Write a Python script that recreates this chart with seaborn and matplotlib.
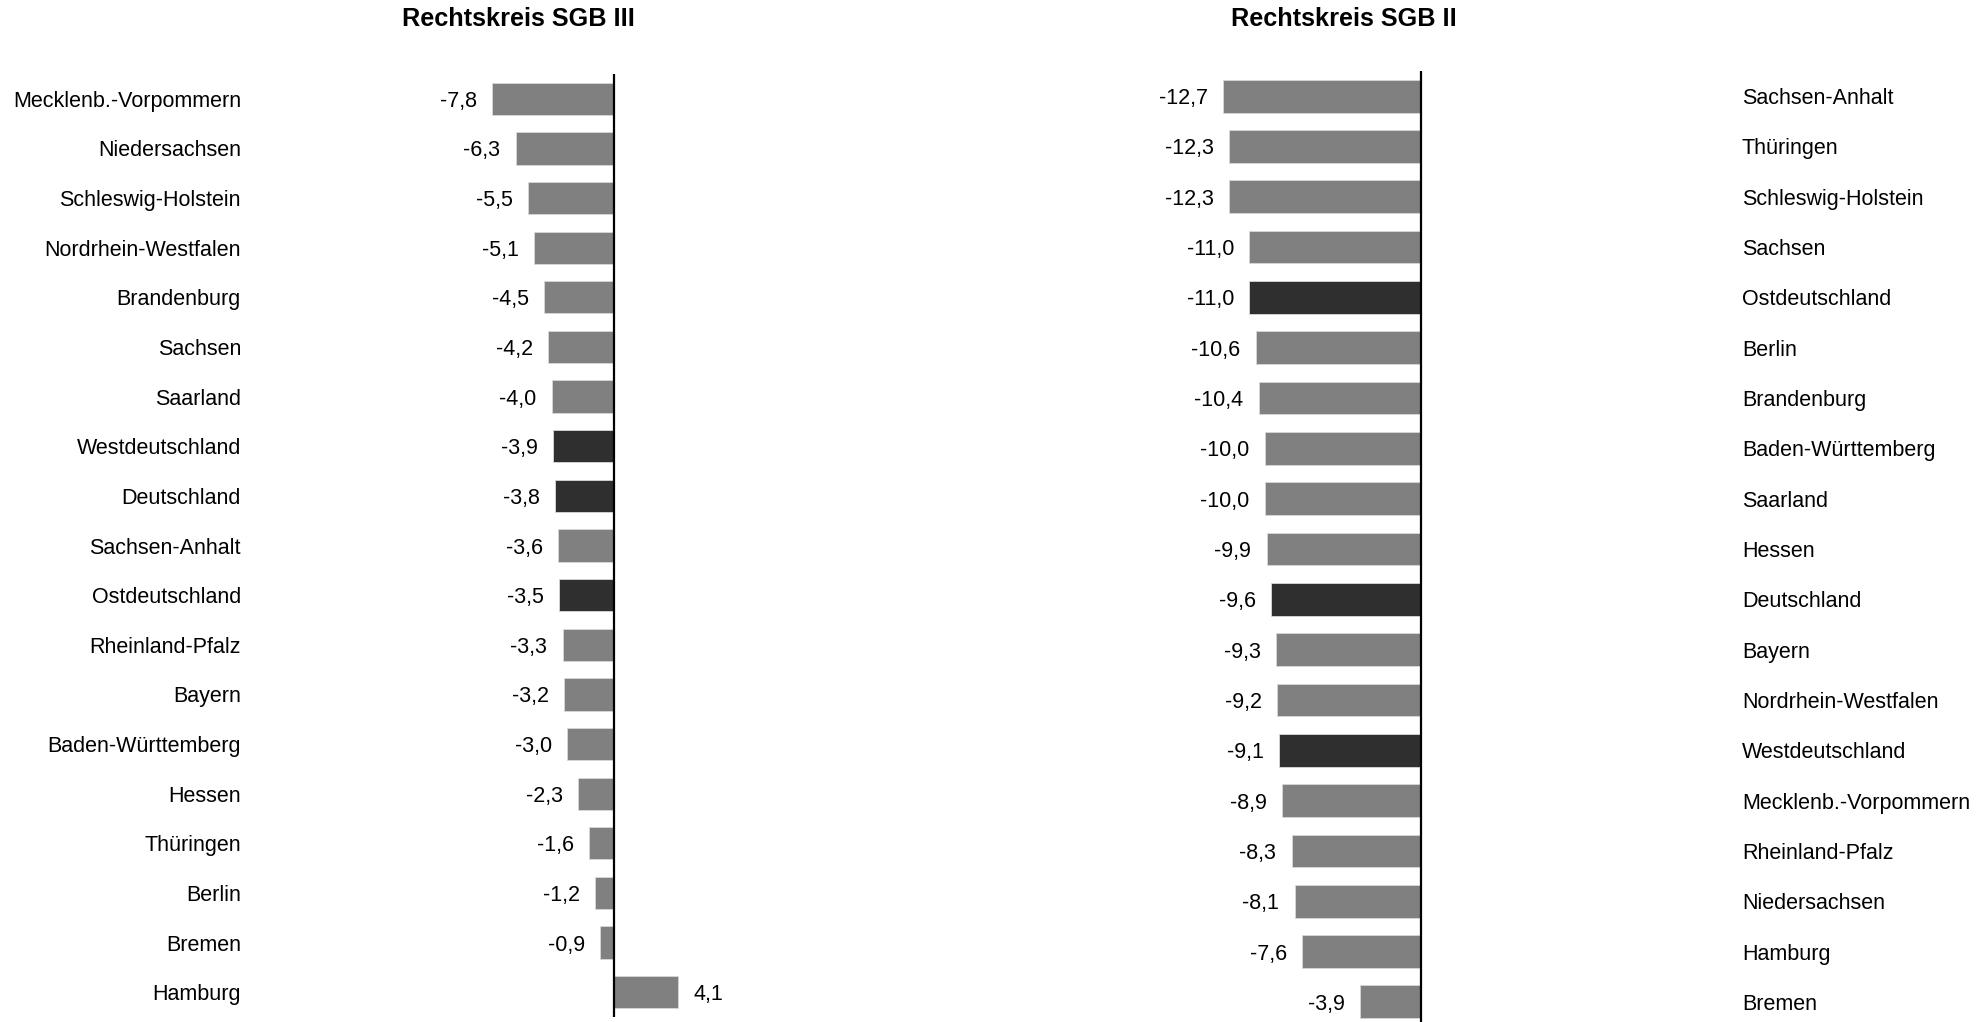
import matplotlib
matplotlib.use("Agg")
import matplotlib.pyplot as plt
import matplotlib.transforms as mtransforms
import seaborn as sns
import pandas as pd

sgb3_labels = ["Mecklenb.-Vorpommern", "Niedersachsen", "Schleswig-Holstein", "Nordrhein-Westfalen",
               "Brandenburg", "Sachsen", "Saarland", "Westdeutschland", "Deutschland",
               "Sachsen-Anhalt", "Ostdeutschland", "Rheinland-Pfalz", "Bayern",
               "Baden-Württemberg", "Hessen", "Thüringen", "Berlin", "Bremen", "Hamburg"]
sgb3_values = [-7.8, -6.3, -5.5, -5.1, -4.5, -4.2, -4.0, -3.9, -3.8, -3.6, -3.5, -3.3, -3.2,
               -3.0, -2.3, -1.6, -1.2, -0.9, 4.1]

sgb2_labels = ["Sachsen-Anhalt", "Thüringen", "Schleswig-Holstein", "Sachsen", "Ostdeutschland",
               "Berlin", "Brandenburg", "Baden-Württemberg", "Saarland", "Hessen", "Deutschland",
               "Bayern", "Nordrhein-Westfalen", "Westdeutschland", "Mecklenb.-Vorpommern",
               "Rheinland-Pfalz", "Niedersachsen", "Hamburg", "Bremen"]
sgb2_values = [-12.7, -12.3, -12.3, -11.0, -11.0, -10.6, -10.4, -10.0, -10.0, -9.9, -9.6,
               -9.3, -9.2, -9.1, -8.9, -8.3, -8.1, -7.6, -3.9]

aggregates = ["Westdeutschland", "Deutschland", "Ostdeutschland"]
titles = ["Rechtskreis SGB III", "Rechtskreis SGB II"]

GRAY = "#808080"
DARK = "#2f2f2f"

sns.set_theme(style="white")
plt.rcParams["font.family"] = ["Liberation Sans", "DejaVu Sans"]

W, H = 1986, 1022
fig = plt.figure(figsize=(W / 100, H / 100), dpi=100)

def fmt(v):
    return f"{v:.1f}".replace(".", ",")

def panel(px_left, px_right, px_zero, px_top, px_bottom, labels, values, title, title_x,
          label_x, label_ha):
    scale = 15.6  # px per unit
    ax = fig.add_axes([px_left / W, 1 - px_bottom / H, (px_right - px_left) / W,
                       (px_bottom - px_top) / H])
    df = pd.DataFrame({"Land": labels, "Wert": values})
    pal = {l: (DARK if l in aggregates else GRAY) for l in labels}
    sns.barplot(data=df, x="Wert", y="Land", hue="Land", palette=pal, legend=False,
                saturation=1, width=0.65, orient="h", ax=ax, edgecolor="#d8d8d8", linewidth=0.6)
    ax.set_xlim((px_left - px_zero) / scale, (px_right - px_zero) / scale)
    ax.set_ylim(len(labels) - 0.5, -0.5)
    ax.axvline(0, color="black", lw=1.6, zorder=5)
    for s in ax.spines.values():
        s.set_visible(False)
    ax.set_xticks([])
    ax.set_yticks([])
    ax.set_xlabel("")
    ax.set_ylabel("")
    for i, v in enumerate(values):
        off = -11 if v < 0 else 11
        ax.annotate(fmt(v), (v, i), xytext=(off, 0), textcoords="offset points",
                    ha="right" if v < 0 else "left", va="center_baseline", fontsize=15.5,
                    color="black")
    tr = mtransforms.blended_transform_factory(fig.transFigure, ax.transData)
    for i, l in enumerate(labels):
        ax.text(label_x / W, i, l, transform=tr, ha=label_ha, va="center_baseline",
                fontsize=15.5, color="black")
    fig.text(title_x / W, 1 - 19 / H, title, ha="center", va="center", fontsize=18.2,
             fontweight="bold", color="black")
    return ax

panel(400, 820, 614, 74, 1017, sgb3_labels, sgb3_values, titles[0], 518, 241, "right")
panel(1150, 1500, 1421, 71, 1022 + 5, sgb2_labels, sgb2_values, titles[1], 1344, 1742, "left")

fig.savefig("out.png", dpi=100, facecolor="white")
